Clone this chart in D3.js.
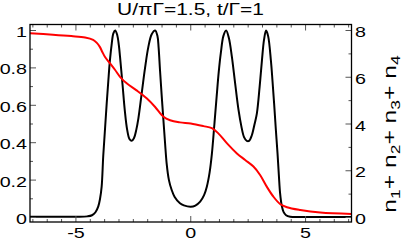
<!DOCTYPE html>
<html><head><meta charset="utf-8">
<script src="https://cdn.jsdelivr.net/npm/d3@7"></script>
<style>html,body{margin:0;padding:0;background:#fff;}svg{display:block;}text{font-family:"Liberation Sans",Arial,sans-serif;fill:#000;}</style>
</head><body>
<script>
const title = "U/\u03C0\u0393=1.5, t/\u0393=1";
const xTicks = [-5, 0, 5];
const leftTicks = [0, 0.2, 0.4, 0.6, 0.8, 1];
const leftTickLabels = ["0", "0.2", "0.4", "0.6", "0.8", "1"];
const rightTicks = [0, 2, 4, 6, 8];
const blackX = [-7,-5,-4.5,-4.3,-4.15,-4.03,-3.95,-3.88,-3.81,-3.73,-3.66,-3.59,-3.52,-3.44,-3.37,-3.29,-3.2,-3.13,-3.08,-2.97,-2.87,-2.77,-2.67,-2.57,-2.47,-2.37,-2.28,-2.14,-1.99,-1.85,-1.7,-1.55,-1.45,-1.4,-1.34,-1.27,-1.19,-1.12,-1.05,-0.95,-0.83,-0.7,-0.47,-0.3,0,0.2,0.41,0.58,0.7,0.82,0.92,1.03,1.13,1.22,1.31,1.42,1.54,1.66,1.79,1.93,2.08,2.2,2.32,2.44,2.54,2.66,2.78,2.88,3.0,3.1,3.19,3.28,3.37,3.49,3.56,3.63,3.7,3.78,3.84,3.89,3.96,4.04,4.15,4.33,5,7];
const blackY = [0.004,0.004,0.006,0.012,0.028,0.058,0.1,0.165,0.33,0.48,0.61,0.73,0.84,0.93,0.985,1.0,0.975,0.92,0.86,0.71,0.57,0.47,0.42,0.41,0.425,0.47,0.53,0.66,0.8,0.91,0.98,1.0,0.97,0.91,0.79,0.66,0.52,0.4,0.29,0.2,0.147,0.11,0.076,0.065,0.058,0.064,0.085,0.12,0.165,0.24,0.34,0.5,0.65,0.78,0.88,0.97,1.0,0.96,0.86,0.72,0.575,0.49,0.43,0.41,0.41,0.44,0.5,0.557,0.7,0.84,0.95,1.0,0.97,0.84,0.73,0.61,0.48,0.34,0.22,0.13,0.065,0.03,0.012,0.004,0.003,0.003];
const redX = [-7,-6,-5.2,-4.6,-4.25,-4.1,-3.96,-3.85,-3.74,-3.52,-3.3,-3.08,-2.79,-2.36,-1.92,-1.56,-1.19,-0.9,-0.47,0,0.55,0.92,1.2,1.57,2.01,2.37,2.73,3.02,3.31,3.6,3.89,4.19,4.77,5.64,7];
const redY = [7.88,7.82,7.76,7.7,7.6,7.48,7.3,7.08,6.88,6.6,6.32,6.02,5.74,5.44,5.1,4.74,4.31,4.16,4.07,4.02,3.91,3.82,3.6,3.18,2.74,2.46,2.18,1.82,1.32,0.89,0.58,0.44,0.32,0.21,0.15];

const W = 403, H = 240;
const L = 30, R = 351.5, T = 24.5, B = 222;
const svg = d3.select("body").append("svg").attr("width", W).attr("height", H);
const x = d3.scaleLinear().domain([-7, 7]).range([L, R]);
const yL = d3.scaleLinear().domain([0, 1]).range([217.5, 30.5]);
const yR = d3.scaleLinear().domain([0, 8]).range([217.5, 30.5]);

const SX = 1.27;
function txt(px, py, s, size, anchor) {
  const g = svg.append("g").attr("transform", `translate(${px},${py}) scale(${SX},1)`);
  return g.append("text").attr("x", 0).attr("y", 0).attr("font-size", size).attr("text-anchor", anchor).text(s);
}

// curves
const clip = svg.append("clipPath").attr("id", "c").append("rect").attr("x", L).attr("y", T).attr("width", R - L).attr("height", B - T);
const gp = svg.append("g").attr("clip-path", "url(#c)");
const lineB = d3.line().x((d, i) => x(blackX[i])).y(d => yL(d)).curve(d3.curveCatmullRom.alpha(0.5));
const lineR = d3.line().x((d, i) => x(redX[i])).y(d => yR(d)).curve(d3.curveCatmullRom.alpha(0.5));
gp.append("path").attr("d", lineB(blackY)).attr("fill", "none").attr("stroke", "#000").attr("stroke-width", 2);
gp.append("path").attr("d", lineR(redY)).attr("fill", "none").attr("stroke", "#ff0000").attr("stroke-width", 2);

// ticks
const tc = "#555";
const xMinor = d3.range(-6.875, 7.0, 0.625);
const ticksG = svg.append("g").attr("stroke", tc).attr("stroke-width", 1);
xMinor.forEach(v => {
  const isMaj = xTicks.some(t => Math.abs(t - v) < 1e-6);
  const len = isMaj ? 6 : 3;
  ticksG.append("line").attr("x1", x(v)).attr("x2", x(v)).attr("y1", B).attr("y2", B - len);
  ticksG.append("line").attr("x1", x(v)).attr("x2", x(v)).attr("y1", T).attr("y2", T + len);
});
d3.range(0, 1.01, 0.1).forEach(v => {
  const isMaj = Math.abs(Math.round(v * 5) - v * 5) < 1e-6;
  const len = isMaj ? 6 : 3;
  ticksG.append("line").attr("x1", L).attr("x2", L + len).attr("y1", yL(v)).attr("y2", yL(v));
});
d3.range(0, 8.01, 1).forEach(v => {
  const isMaj = v % 2 === 0;
  const len = isMaj ? 6 : 3;
  ticksG.append("line").attr("x1", R).attr("x2", R - len).attr("y1", yR(v)).attr("y2", yR(v));
});

// frame
svg.append("rect").attr("x", L).attr("y", T).attr("width", R - L).attr("height", B - T)
  .attr("fill", "none").attr("stroke", "#000").attr("stroke-width", 1.3);

// labels
leftTicks.forEach((v, i) => txt(27, yL(v) + 6.5, leftTickLabels[i], 15.5, "end"));
rightTicks.forEach(v => txt(355, yR(v) + 6.5, String(v), 15.5, "start"));
xTicks.forEach(v => txt(x(v), 238, String(v).replace("-", "-"), 15.5, "middle"));
txt(190.5, 15, title, 16.5, "middle");

// right axis label
const lg = svg.append("g");
const lt = lg.append("text").attr("font-size", 17).attr("text-anchor", "middle");
[["n","1","+ "],["n","2","+ "],["n","3","+ "],["n","4",""]].forEach(p => {
  lt.append("tspan").text(p[0]);
  lt.append("tspan").attr("font-size", 12).attr("dy", 4).text(p[1]);
  if (p[2]) lt.append("tspan").attr("dy", -4).text(p[2]);
});
const bb = lt.node().getBBox();
const sAlong = 158 / bb.width;
lg.attr("transform", `translate(${400 - 4},134) rotate(-90) scale(${sAlong},1.05)`);
</script>
</body></html>
